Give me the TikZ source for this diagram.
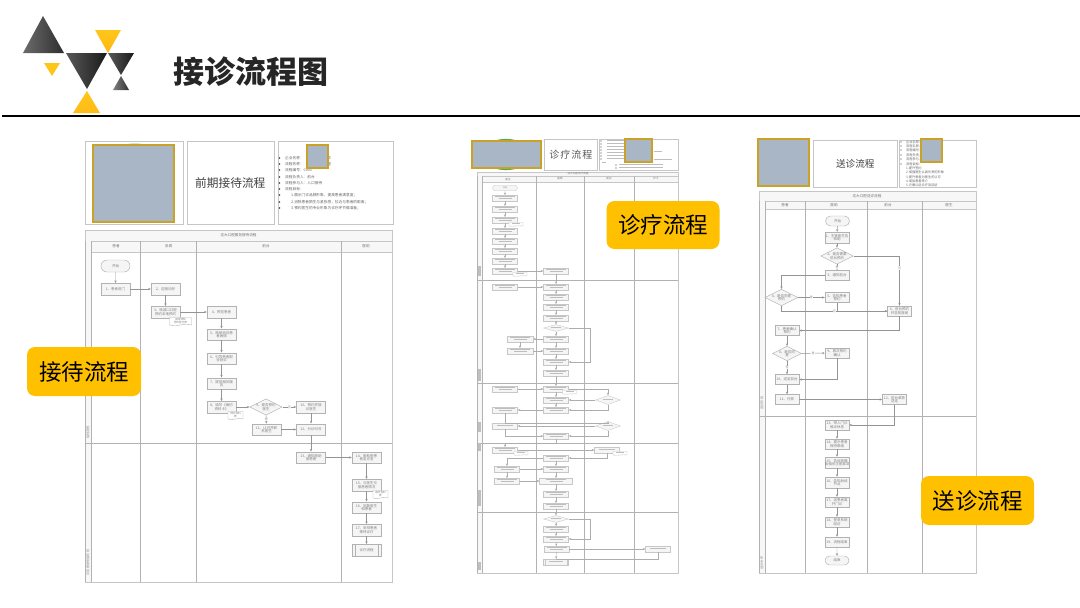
\documentclass[tikz,border=0pt]{standalone}
\usepackage{fontspec}
\setmainfont{Noto Sans CJK SC}
\usetikzlibrary{arrows.meta,shapes.geometric,shapes.misc,shapes.symbols}
\newcommand\pxfont[1]{\fontsize{#1}{#1}\selectfont}
\newcommand\oneln[1]{\textcolor{smudge}{\rule[0.8pt]{#1pt}{0.8pt}}}
\newcommand\twoln{\textcolor{smudge}{\rule[0.8pt]{20pt}{0.7pt}}\\[-0.4pt]\textcolor{smudge}{\rule[0.8pt]{13pt}{0.7pt}}}
\definecolor{smudge}{HTML}{BEBEBE}
\definecolor{gold}{HTML}{C9A227}
\definecolor{slate}{HTML}{A9B6C6}
\definecolor{tag}{HTML}{FFC000}
\definecolor{tri}{HTML}{FFC61A}
\definecolor{frameline}{HTML}{C6C6C6}
\definecolor{boxline}{HTML}{B2B2B2}
\tikzset{
  x=1pt,y=-1pt,
  >={Stealth[length=2.6pt,width=2.2pt]},
  panel/.style={draw=frameline,fill=white,line width=.6,inner sep=0,anchor=north west},
  photo/.style={draw=gold,fill=slate,line width=1.1},
  band/.style={draw=frameline,fill=black!3,line width=.5},
  colline/.style={draw=black!30,line width=.55},
  fbox/.style={draw=boxline,fill=black!4,line width=.45,inner sep=0,align=center,text=black!50,font=\pxfont{3.5},minimum width=29,minimum height=11.5},
  rbox/.style={fbox,minimum width=24,minimum height=10},
  mbox/.style={fbox,draw=black!22,minimum width=25,minimum height=5.5,line width=.35,font=\pxfont{1}},
  term/.style={fbox,rounded rectangle},
  dia/.style={fbox,diamond,aspect=2},
  docbox/.style={draw=boxline,fill=white,line width=.4,tape,tape bend top=none,tape bend height=1,inner sep=0,minimum width=15,minimum height=8,align=center,text=black!50,font=\pxfont{2.6}},
  link/.style={->,draw=black!42,line width=.45},
  plain/.style={draw=black!42,line width=.45},
  lab/.style={inner sep=.3,fill=white,text=black!42,font=\pxfont{3}},
  head/.style={text=black!55,font=\pxfont{3.6},inner sep=0},
  strip/.style={rotate=90,text=black!45,font=\pxfont{3.2},inner sep=0},
  info/.style={anchor=west,inner sep=0,text=black!60,font=\pxfont{3.7}},
  bull/.style={circle,fill=black!75,inner sep=0,minimum size=1.6},
  tagbox/.style={fill=tag,rounded corners=8,inner sep=0,text=black,font=\pxfont{22.5}},
}
\begin{document}
\begin{tikzpicture}
\useasboundingbox (0,0) rectangle (1080,608);
\fill[white] (0,0) rectangle (1080,608);

% ---- logo
\shade[left color=black!58,right color=black!82] (43,16) -- (23,53) -- (64,53) -- cycle;
\shade[top color=tri,bottom color=tri!80!orange] (95,30) -- (121,30) -- (108,53) -- cycle;
\shade[left color=black!65,right color=black!90] (66,53) -- (107,53) -- (87,89) -- cycle;
\shade[left color=black!65,right color=black!90] (108,53) -- (134,53) -- (121,75) -- cycle;
\shade[left color=black!50,right color=black!80] (121,76) -- (113,90) -- (129,90) -- cycle;
\fill[tri] (44,63) -- (60,63) -- (52,76) -- cycle;
\shade[top color=tri,bottom color=tri!85!orange] (87,91) -- (73,113) -- (100,113) -- cycle;
\node[inner sep=0,text=black!85,font=\bfseries\pxfont{31}] (title) at (250.5,72) {接诊流程图};
\draw[line width=2.4,black] (2,116) -- (1080,116);

% ================= LEFT ==================
\node[panel,minimum width=98,minimum height=83] (la) at (85,141) {};
\fill[green!50!black!50] (135,144.6) ellipse (9 and 1);
\draw[photo] (93,145) rectangle (174,222);
\node[panel,minimum width=87,minimum height=83,font=\pxfont{11.7},text=black!75] (lb) at (186.5,141) {前期接待流程};
\node[panel,minimum width=115,minimum height=83] (lc) at (277.5,141) {};
\foreach \y/\t in {158/企业名称：\hspace{20pt}门诊,164/流程名称：\hspace{20pt}流程,170/流程编号：0003,177/流程负责人：前台,183/流程参与人：入口接待/前台/助理,189/流程目标：}{
  \node[bull] at (279.5,\y) {};
  \node[info] at (285,\y) {\t};
}
\foreach \y/\t in {195/1.展示门诊品牌形象，提高患者满意度；,202/2.消除患者陌生与紧张感，拉近与患者的距离；,208/3.预约医生的专业形象为诊疗环节做准备；}{
  \node[bull] at (279.5,\y) {};
  \node[info] at (291,\y) {\t};
}
\draw[photo] (307,145) rectangle (328,168);

\draw[draw=frameline,fill=white,line width=.6] (85,230) rectangle (392,582);
\draw[band] (85,230) rectangle (392,241);
\draw[band] (91,241) rectangle (392,252);
\fill[black!3] (85,241) rectangle (91,582);
\draw[colline] (91,241) -- (91,582);
\draw[colline] (85,241) -- (85,582);
\foreach \x in {140.7,196.7,341.7}{\draw[colline] (\x,241) -- (\x,582);}
\draw[colline] (85,443) -- (392,443);
\node[head] (lt) at (238.5,235.5) {达大口腔服务接待流程};
\node[head] (lh1) at (116,246.5) {患者};
\node[head] (lh2) at (168.5,246.5) {流调};
\node[head] (lh3) at (266,246.5) {前台};
\node[head] (lh4) at (366,246.5) {医助};
\node[strip] (ls1) at (88,432.5) {接待流程};
\node[strip] (ls2) at (88,562.5) {诊前医助衔接阶段};

\node[term,minimum height=12] (ls) at (115.5,266) {开始};
\node[fbox] (l1) at (115.5,289) {1、患者进门};
\node[fbox] (l2) at (165.5,289) {2、迎接问好};
\node[fbox] (l3) at (165.5,312) {3、核减口口腔\\预约本地预约};
\node[fbox] (l4) at (221.5,312) {4、预览患者};
\node[fbox] (l5) at (221.5,334.5) {5、简单询问患\\者病情};
\node[fbox] (l6) at (221.5,358.5) {6、引导患者配\\合就诊};
\node[fbox] (l7) at (221.5,383.5) {7、提供相关服\\务};
\node[fbox] (l8) at (221.5,407) {8、填写《病历\\资料卡》};
\node[dia,minimum width=28,minimum height=14] (l9) at (266,407) {9、是否预约\\医生};
\node[fbox] (l10) at (311,407) {10、预约并接\\诊医生};
\node[fbox] (l11) at (266.5,429.5) {11、认可并联\\系医生};
\node[fbox] (l12) at (311,429.5) {12、分诊叫号};
\node[fbox] (l13) at (311,457.5) {13、通知医助\\接患者};
\node[fbox] (l14) at (366.5,457.5) {14、医助带患\\者至诊室};
\node[fbox] (l15) at (366.5,485) {15、与医生交\\接患者情况};
\node[fbox] (l16) at (366.5,507.5) {16、回复医生\\和患者};
\node[fbox] (l17) at (366.5,530) {17、安排患者\\等待诊疗};
\node[fbox] (l18) at (366.5,550) {诊疗流程};
\draw[draw=boxline,line width=.4] ([xshift=3.5]l18.north west) -- ([xshift=3.5]l18.south west) ([xshift=-3.5]l18.north east) -- ([xshift=-3.5]l18.south east);
\node[docbox,minimum width=22] (ld1) at (180.5,321) {接待须知\\预约登记表};
\node[docbox] (ld2) at (235.5,415) {预约资料\\表};
\node[docbox] (ld3) at (380.5,494) {病历资料\\表};

\draw[link] (ls) -- (l1);
\draw[link] (l1) -- (l2);
\draw[link] (l2) -- (l3);
\draw[link] (l3) -- (l4);
\draw[link] (l4) -- (l5);
\draw[link] (l5) -- (l6);
\draw[link] (l6) -- (l7);
\draw[link] (l7) -- (l8);
\draw[link] (l8) -- (l9);
\draw[link] (l9) -- node[lab]{否} (l10);
\draw[link] (l9) -- node[lab]{是} (l11);
\draw[link] (l10) -- (l12);
\draw[link] (l11) -- (l12);
\draw[link] (l12) -- (l13);
\draw[link] (l13) -- (l14);
\draw[link] (l14) -- (l15);
\draw[link] (l15) -- (l16);
\draw[link] (l16) -- (l17);
\draw[link] (l17) -- (l18);

% ================= MIDDLE ==================
\fill[green!55!black!70] (506,154.5) ellipse (25 and 15.6);
\draw[photo] (472,141) rectangle (541,168);
\node[panel,minimum width=53,minimum height=31,font=\pxfont{10},text=black!65] (mb) at (544,139) {诊\hspace{1pt}疗\hspace{1pt}流\hspace{1pt}程};
\node[panel,minimum width=79,minimum height=31] (mc) at (599,139) {};
\foreach \y/\w in {141/18,144/18,147/18,150/18,153/18,156/18,159/18}{
  \node[bull,minimum size=1.1] at (601,\y) {};
  \node[inner sep=0,anchor=west] at (607,\y) {\oneln{\w}};
}
\node[inner sep=0,anchor=west] (mc1) at (654,152) {\oneln{8}};
\node[inner sep=0,anchor=west] (mc2) at (654,160) {\oneln{18}};
\node[inner sep=0,anchor=west] (mc3) at (602,163) {\oneln{4}};
\node[bull,minimum size=1.1] at (616,165) {};
\node[bull,minimum size=1.1] at (616,168) {};
\node[inner sep=0,anchor=west] (mc4) at (619,165) {\oneln{44}};
\node[inner sep=0,anchor=west] (mc5) at (619,168) {\oneln{44}};
\draw[photo] (625,139) rectangle (652,162);

\draw[draw=frameline,fill=white,line width=.6] (477,172) rectangle (678,573);
\draw[band] (477,172) rectangle (678,176);
\draw[band] (482,176) rectangle (678,182);
\fill[black!3] (477,176) rectangle (482,573);
\draw[colline] (482,176) -- (482,573);
\draw[colline] (477,176) -- (477,573);
\foreach \x in {536,584,634}{\draw[colline] (\x,176) -- (\x,573);}
\foreach \y in {280,383,443,512}{\draw[colline] (477,\y) -- (678,\y);}
\node[head,font=\pxfont{2.6}] (mt) at (578,174) {达大口腔诊疗流程};
\node[head,font=\pxfont{2.6}] (mh1) at (508,179) {医生};
\node[head,font=\pxfont{2.6}] (mh2) at (560,179) {医助};
\node[head,font=\pxfont{2.6}] (mh3) at (609,179) {前台};
\node[head,font=\pxfont{2.6}] (mh4) at (656,179) {护士};
\foreach \y/\l in {271/10,375/12,427/10,447/8,498/16,566/8}{
  \fill[black!25] (478,\y-\l/2) rectangle (481,\y+\l/2);
}

\node[term,draw=black!22,minimum width=25,minimum height=5.5,line width=.35,font=\pxfont{2}] (ms) at (505,188) {开始};
\foreach \n/\y in {a1/198,a2/209,a3/220,a4/231,a5/241,a6/251,a7/261,a8/271,a9/287}{
  \node[mbox] (\n) at (505,\y) {\twoln};
}
\foreach \n/\y in {b1/271,b2/287,b3/297,b4/307,b5/318,b7/339,b8/351,b9/362,b10/373,b11/389,b12/400,b13/410,b14/436,b15/458,b16/469,b18/494,b19/506,b21/529,b22/539}{
  \node[mbox] (\n) at (556,\y) {\twoln};
}
\node[mbox,minimum width=33] (b17) at (556,481) {\twoln};
\node[mbox] (b23) at (556.5,549) {\twoln};
\node[mbox,minimum height=6] (mend) at (556,562) {\oneln{14}};
\draw[draw=black!22,line width=.3] ([xshift=2]mend.north west) -- ([xshift=2]mend.south west) ([xshift=-2]mend.north east) -- ([xshift=-2]mend.south east);
\tikzset{mdia/.style={dia,draw=black!22,minimum width=25,line width=.35,font=\pxfont{1}}}
\node[mdia,minimum height=7] (b6) at (556,328) {\oneln{10}};
\node[mdia,minimum height=7] (b20) at (556,519) {\oneln{10}};
\node[mbox,minimum width=26] (c1) at (520,339) {\twoln};
\node[mbox,minimum width=26] (c2) at (520,351) {\twoln};
\node[mbox] (c3) at (505,389) {\twoln};
\node[mbox] (c4) at (505,410) {\twoln};
\node[mbox] (c5) at (505,426) {\oneln{16}};
\node[mbox] (c6) at (505,450) {\twoln};
\node[mbox] (c7) at (507,469) {\twoln};
\node[mbox] (c8) at (507,481) {\twoln};
\node[mdia,minimum height=9] (e1) at (608,400) {\oneln{10}};
\node[mdia,minimum height=9] (e2) at (608,426) {\oneln{10}};
\node[mbox] (e3) at (607,450) {\oneln{16}};
\node[mbox] (f1) at (658,549) {\oneln{16}};
\foreach \n/\x/\y in {g1/516/224,g2/520/274,g3/569.5/392,g4/521/453,g5/620/453}{
  \node[docbox,draw=black!22,tape bend height=.5,minimum width=14,minimum height=4,font=\pxfont{1}] (\n) at (\x,\y) {\oneln{8}};
}

\tikzset{mlink/.style={link,draw=black!32,line width=.35},mplain/.style={plain,draw=black!32,line width=.35}}
\draw[mlink] (ms) -- (a1);
\draw[mlink] (a1) -- (a2);
\draw[mlink] (a2) -- (a3);
\draw[mlink] (a3) -- (a4);
\draw[mlink] (a4) -- (a5);
\draw[mlink] (a5) -- (a6);
\draw[mlink] (a6) -- (a7);
\draw[mlink] (a7) -- (a8);
\draw[mlink] (a8) -- (b1);
\draw[mlink] (b1) -- (b2);
\draw[mlink] (a9) -- (b2);
\draw[mlink] (b2) -- (b3);
\draw[mlink] (b3) -- (b4);
\draw[mlink] (b4) -- (b5);
\draw[mlink] (b5) -- (b6);
\draw[mlink] (b6) -- (b7);
\draw[mlink] (b7) -- (c1);
\draw[mlink] (c1) -- (c2);
\draw[mlink] (c2) -- (b8);
\draw[mlink] (b7) -- (b8);
\draw[mlink] (b8) -- (b9);
\draw[mlink] (b9) -- (b10);
\draw[mlink] (b6.east) -- ++(21,0) |- (b9.east);
\draw[mlink] (b10) -- (b11);
\draw[mlink] (c3) -- (b11);
\draw[mlink] (b11) -- (b12);
\draw[mlink] (b12) -- (b13);
\draw[mlink] (b11.east) -| (e1.north);
\draw[mlink] (e1) -- (b12);
\draw[mlink] (e1.south) |- (b13.east);
\draw[mlink] (b13) -- (c4);
\draw[mlink] (c4.south) -- ++(0,10) -| (e2.north);
\draw[mlink] (e2) -- (c5);
\draw[mlink] (c5.south) |- (b14.west);
\draw[mlink] (e2.south) |- (b14.east);
\draw[mlink] (b14.south) -- ++(0,4.5) -| (c6.north);
\draw[mlink] (c6) -- (e3);
\draw[mlink] (e3.south) |- (b15.east);
\draw[mlink] (b15.west) -| (c7.north);
\draw[mlink] (c7) -- (c8);
\draw[mlink] (c7) -- (b16);
\draw[mlink] (b15) -- (b16);
\draw[mlink] (c8) -- (b17);
\draw[mlink] (b16) -- (b17);
\draw[mlink] (b17) -- (b18);
\draw[mlink] (b18) -- (b19);
\draw[mlink] (b19) -- (b20);
\draw[mlink] (b20) -- (b21);
\draw[mlink] (b21) -- (b22);
\draw[mlink] (b22) -- (b23);
\draw[mlink] (b20.east) -- ++(21,0) |- (b22.east);
\draw[mlink] (b23) -- (f1);
\draw[mlink] (b23) -- (mend);
\draw[mplain] (f1.south) |- (mend.north);

% ================= RIGHT ==================
\draw[photo] (758,139) rectangle (809,186);
\node[panel,minimum width=84,minimum height=47,font=\pxfont{9.6},text=black!75] (rb) at (813,140) {送诊流程};
\node[panel,minimum width=77,minimum height=47] (rc) at (899,140) {};
\foreach \y/\t in {142/企业名称：,146/流程名称：,150/流程编号：,155/流程负责人：,159/流程参与人：,164/流程目标：}{
  \node[bull,minimum size=1.3] at (901,\y) {};
  \node[info,font=\pxfont{3.2}] at (906,\y) {\t};
}
\foreach \y/\t in {168/1.提升签约,172/2.增强医生认真负责的形象,177/3.提升患者对医生的认可,181/4.增加患者转介,185/5.方便以后诊疗及回访}{
  \node[info,font=\pxfont{3.2}] at (906,\y) {\t};
}
\draw[photo] (921,139) rectangle (942,162);

\draw[draw=frameline,fill=white,line width=.6] (759,191) rectangle (976,573);
\draw[band] (759,191) rectangle (976,201);
\draw[band] (765,201) rectangle (976,209.5);
\fill[black!3] (759,201) rectangle (765,573);
\draw[colline] (765,201) -- (765,573);
\draw[colline] (759,201) -- (759,573);
\foreach \x in {805,867,922}{\draw[colline] (\x,201) -- (\x,573);}
\draw[colline] (759,416) -- (976,416);
\node[head] (rt) at (867,196) {达大口腔送诊流程};
\node[head] (rh1) at (785,205.5) {患者};
\node[head] (rh2) at (834,205.5) {医助};
\node[head] (rh3) at (888,205.5) {前台};
\node[head] (rh4) at (949,205.5) {医生};
\node[strip] (rs1) at (762,403) {送诊阶段};
\node[strip] (rs2) at (762,563) {送诊关怀};

\node[term,rbox,minimum height=10] (rs) at (837.5,221) {开始};
\node[rbox,minimum height=11] (r1) at (837,237.5) {1、主管医生告\\知助};
\node[dia,minimum width=28,minimum height=14] (r2) at (837,256) {2、是否需要\\前台预约};
\node[rbox] (r3) at (837,275.5) {3、通知前台};
\node[dia,minimum width=27,minimum height=13] (r4) at (781.5,297.5) {4、是否同意\\预约};
\node[rbox] (r5) at (837,297.5) {5、告知患者\\预约};
\node[rbox] (r6) at (899.5,311) {6、前台预约\\并告知医助};
\node[rbox] (r7) at (787,330.5) {7、患者确认\\预约};
\node[dia,minimum width=24,minimum height=13] (r8) at (787,353.5) {8、是否同\\意};
\node[rbox] (r9) at (837,353) {9、再次预约\\确认};
\node[rbox] (r10) at (787,379.5) {10、送至前台};
\node[rbox] (r11) at (787,399.5) {11、付款};
\node[rbox] (r12) at (894.5,399.5) {12、前台收款\\送走};
\node[rbox] (r13) at (837,425) {13、带入门诊\\候诊休息};
\node[rbox] (r14) at (837,444) {14、提示患者\\保持联络};
\node[rbox,minimum height=11] (r15) at (837,462.5) {15、告诉医嘱\\及相关注意事项};
\node[rbox,minimum height=11] (r16) at (837,482.5) {16、告知后续\\节点};
\node[rbox] (r17) at (837,502) {17、送患者离\\开门诊};
\node[rbox] (r18) at (837,522) {18、登录系统\\回访};
\node[rbox] (r19) at (837,542) {19、流程结束};
\node[term,rbox,minimum height=9] (re) at (837,560.5) {结束};

\draw[link] (rs) -- (r1);
\draw[link] (r1) -- (r2);
\draw[link] (r2) -- node[lab]{是} (r3);
\draw[link] (r2.east) -| node[lab,pos=.62]{否} (r6.north);
\draw[link] (r3.west) -| (r4.north);
\draw[link] (r4) -- node[lab]{是} (r5);
\draw[link] (r4.south) |- node[lab,pos=.75]{否} (r6.west);
\draw[plain] (r5.south) |- (r6.west);
\draw[link] (r6.south) |- (r7.east);
\draw[link] (r7) -- (r8);
\draw[link] (r8) -- node[lab]{是} (r9);
\draw[link] (r8) -- node[lab]{否} (r10);
\draw[link] (r9.south) |- (r10.east);
\draw[link] (r10) -- (r11);
\draw[link] (r11) -- (r12);
\draw[link] (r12.south) |- (r13.east);
\draw[link] (r13) -- (r14);
\draw[link] (r14) -- (r15);
\draw[link] (r15) -- (r16);
\draw[link] (r16) -- (r17);
\draw[link] (r17) -- (r18);
\draw[link] (r18) -- (r19);
\draw[link] (r19) -- (re);

% ---- yellow tags
\node[tagbox,minimum width=114,minimum height=49] (t1) at (84,371.5) {接待流程};
\node[tagbox,minimum width=113,minimum height=48] (t2) at (663,225) {诊疗流程};
\node[tagbox,minimum width=113,minimum height=49] (t3) at (977.5,500.5) {送诊流程};
\end{tikzpicture}
\end{document}
